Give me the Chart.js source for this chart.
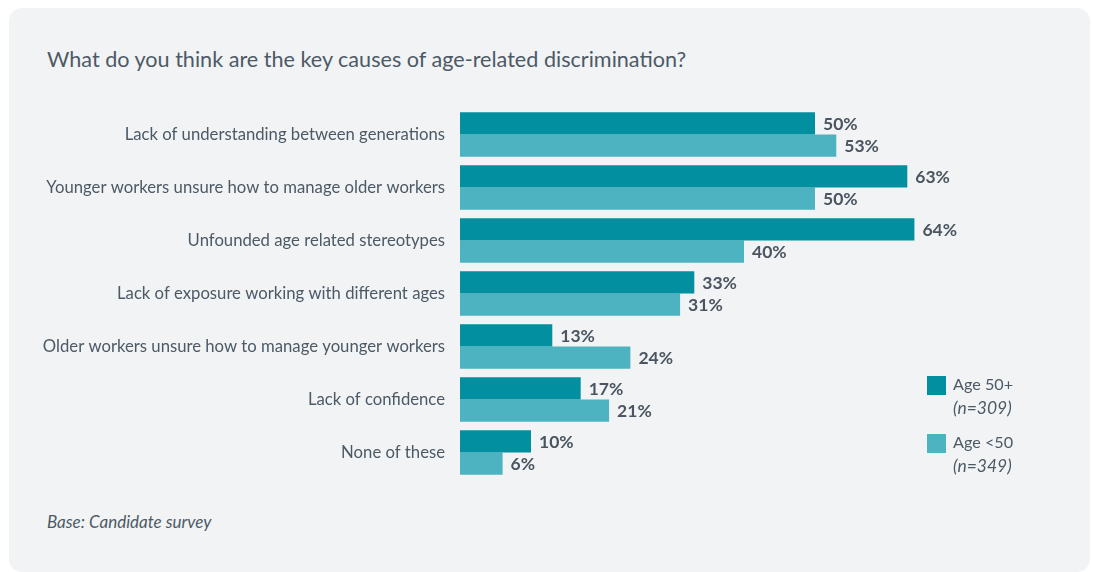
<!DOCTYPE html>
<html>
<head>
<meta charset="utf-8">
<script src="https://cdn.jsdelivr.net/npm/chart.js@4.4.1/dist/chart.umd.min.js"></script>
<style>
  html, body { margin: 0; padding: 0; background: #ffffff; }
  body { width: 1093px; height: 572px; position: relative; overflow: hidden; font-family: Lato, "Noto Sans", sans-serif; color: #4c5a66; }
  .card { position: absolute; left: 9px; top: 8px; width: 1081px; height: 564px; background: #f2f3f5; border-radius: 13px; }
  .title { position: absolute; left: 47px; top: 46px; font-size: 21.6px; white-space: nowrap; }
  .base { position: absolute; left: 47px; top: 511px; font-size: 17px; font-style: italic; }
  #causesChart { position: absolute; left: 40px; top: 108px; }
  .legend { position: absolute; left: 927px; top: 376px; }
  .legend .item { position: relative; height: 58px; }
  .legend .swatch { position: absolute; left: 0; top: 0; width: 19px; height: 19px; }
  .legend .name { position: absolute; left: 26px; top: -2px; font-size: 16.2px; white-space: nowrap; }
  .legend .n { position: absolute; left: 26px; top: 21px; font-size: 17.5px; font-style: italic; white-space: nowrap; }
</style>
</head>
<body>
<div class="card"></div>
<div class="title">What do you think are the key causes of age-related discrimination?</div>
<canvas id="causesChart" width="917" height="371"></canvas>
<div class="legend" id="legend"></div>
<div class="base">Base: Candidate survey</div>
<script>
const categories = [
	'Lack of understanding between generations',
	'Younger workers unsure how to manage older workers',
	'Unfounded age related stereotypes',
	'Lack of exposure working with different ages',
	'Older workers unsure how to manage younger workers',
	'Lack of confidence',
	'None of these'
];
const age50plus = [50, 63, 64, 33, 13, 17, 10];
const ageUnder50 = [53, 50, 40, 31, 24, 21, 6];
const seriesNames = ['Age 50+', 'Age <50'];
const sampleSizes = ['(n=309)', '(n=349)'];
const seriesColors = ['#028f9f', '#4db3c0'];

// value labels at the end of each bar
const barLabels = {
	id: 'barLabels',
	afterDatasetsDraw(chart) {
		const ctx = chart.ctx;
		ctx.save();
		ctx.font = 'bold 17.5px Lato, "Noto Sans", sans-serif';
		ctx.fillStyle = '#4a5561';
		ctx.textAlign = 'left';
		ctx.textBaseline = 'middle';
		chart.data.datasets.forEach(function(ds, i) {
			chart.getDatasetMeta(i).data.forEach(function(bar, j) {
				ctx.fillText(ds.data[j] + '%', bar.x + 8, bar.y + 1);
			});
		});
		ctx.restore();
	}
};

const ctx = document.getElementById('causesChart').getContext('2d');
new Chart(ctx, {
	type: 'bar',
	data: {
		labels: categories,
		datasets: [
			{ label: seriesNames[0], data: age50plus, backgroundColor: seriesColors[0] },
			{ label: seriesNames[1], data: ageUnder50, backgroundColor: seriesColors[1] }
		]
	},
	options: {
		indexAxis: 'y',
		responsive: false,
		animation: false,
		layout: { padding: 0 },
		datasets: { bar: { barPercentage: 1, categoryPercentage: 0.835 } },
		scales: {
			x: { display: false, min: 0, max: 70 },
			y: {
				grid: { display: false, drawTicks: false },
				border: { display: false },
				ticks: {
					padding: 15,
					color: '#4c5a66',
					font: { family: 'Lato, "Noto Sans", sans-serif', size: 16.7 }
				},
				// fixed label column, no extra room above/below the bars
				afterFit(axis) {
					axis.width = 420;
					axis.paddingTop = 0;
					axis.paddingBottom = 0;
				}
			}
		},
		plugins: {
			legend: { display: false },
			tooltip: { enabled: false }
		}
	},
	plugins: [barLabels]
});

// legend with sample sizes
const legend = document.getElementById('legend');
seriesNames.forEach(function(name, i) {
	const item = document.createElement('div');
	item.className = 'item';
	item.innerHTML = '<div class="swatch" style="background:' + seriesColors[i] + '"></div>' +
		'<div class="name"></div><div class="n"></div>';
	item.querySelector('.name').textContent = name;
	item.querySelector('.n').textContent = sampleSizes[i];
	legend.appendChild(item);
});
</script>
</body>
</html>
